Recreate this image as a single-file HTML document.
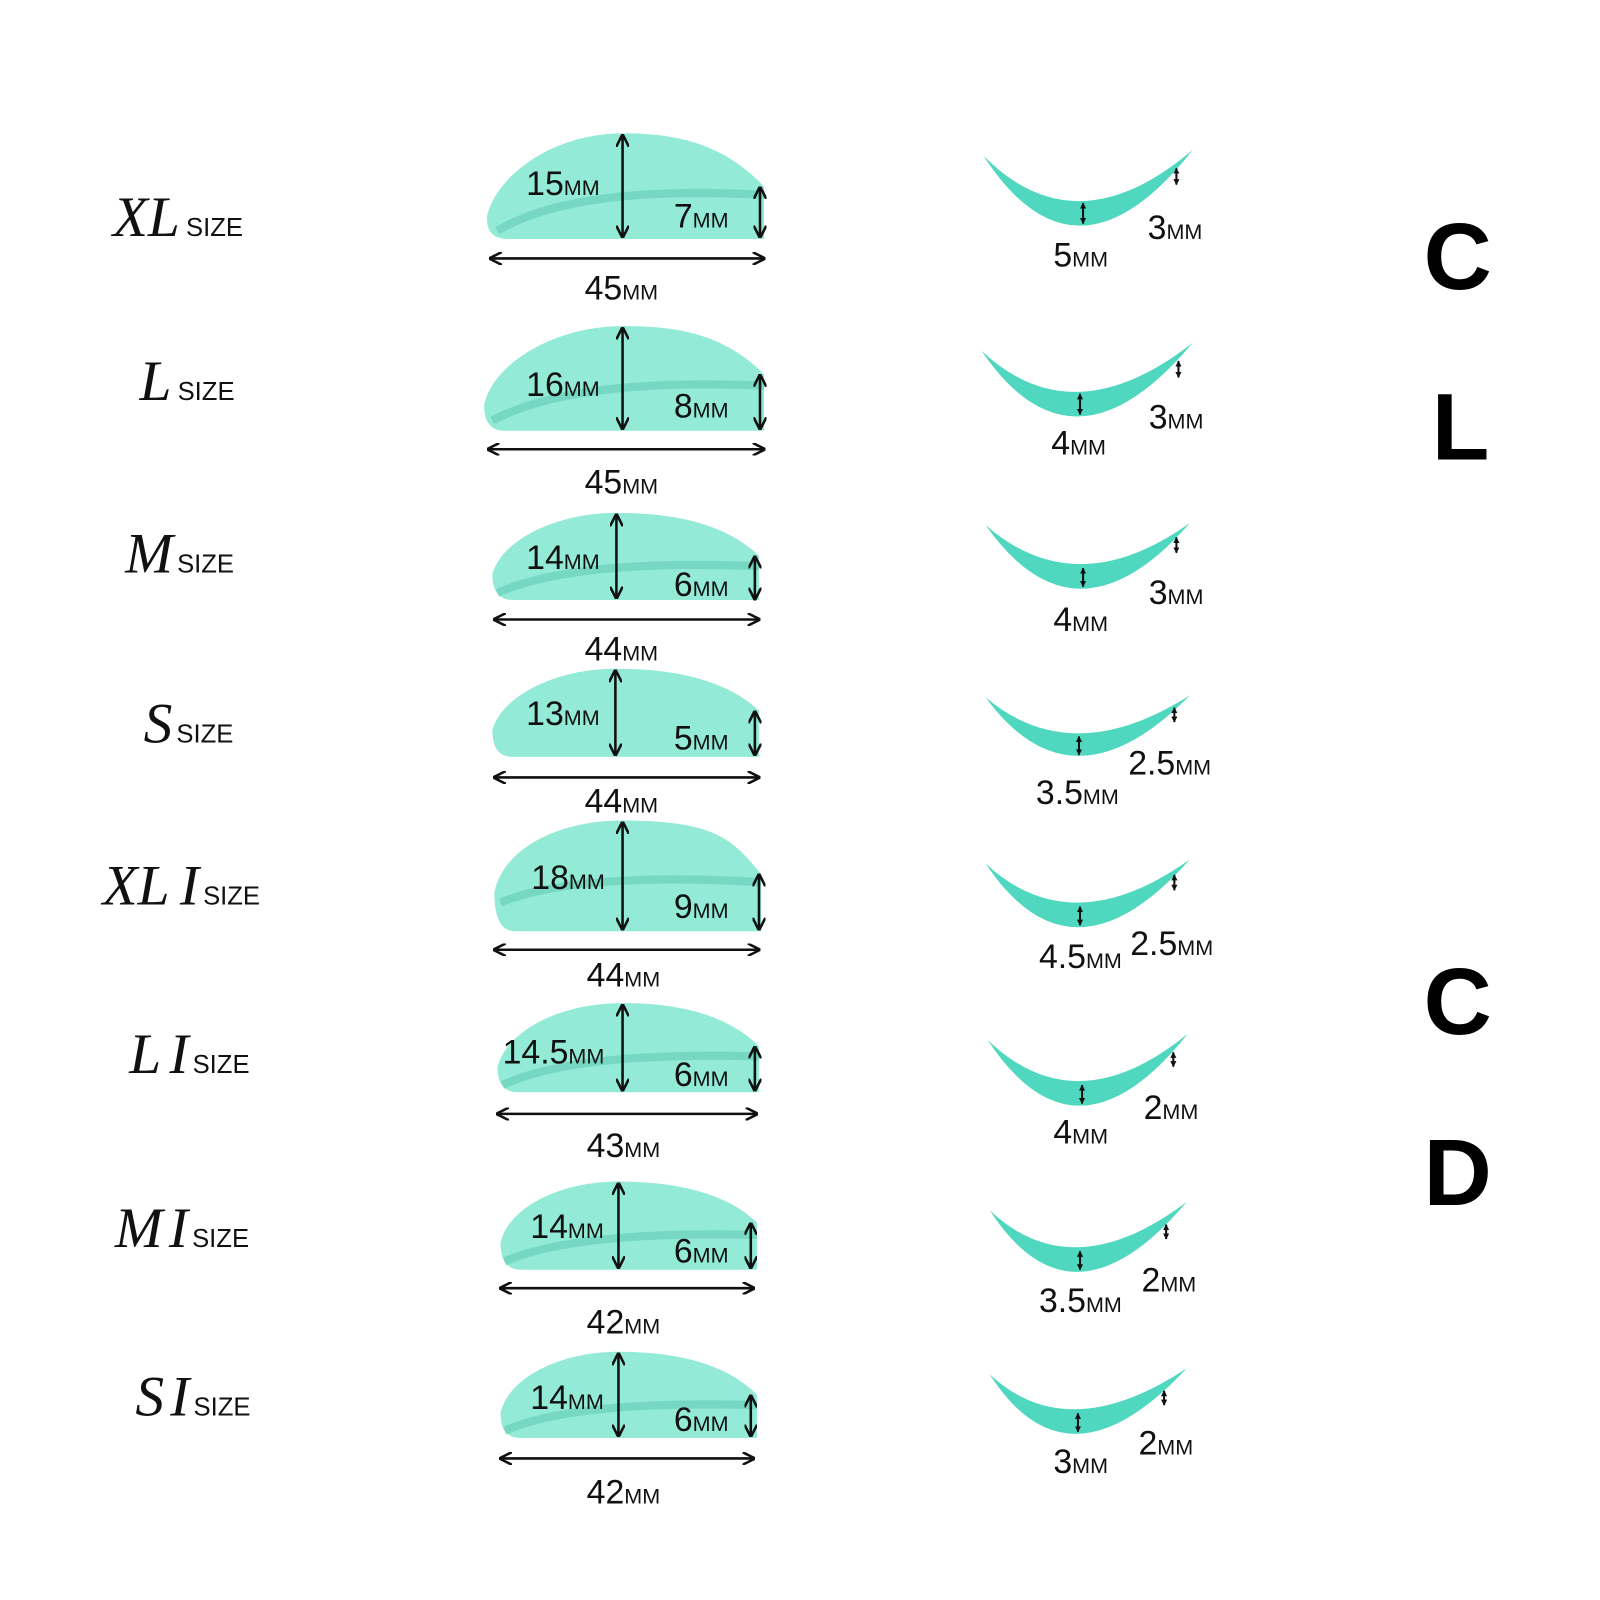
<!DOCTYPE html>
<html><head><meta charset="utf-8"><style>
html,body{margin:0;padding:0;background:#fff}
svg{display:block}
.n{font-family:"Liberation Sans",sans-serif;font-size:33px;fill:#111}
.m{font-size:21px}
.s{font-family:"Liberation Serif",serif;font-style:italic;font-size:56px;fill:#111}
.z{font-family:"Liberation Sans",sans-serif;font-style:normal;font-size:25px;fill:#111}
.big{font-family:"Liberation Sans",sans-serif;font-weight:bold;font-size:92px;fill:#000}
.pad{fill:#92ead7}
.band{fill:none;stroke:#6fd3bd;stroke-width:8;opacity:.8}
.cv{fill:#4fd8bf}
.ar{stroke:#111;stroke-width:2.5;fill:none;marker-start:url(#a);marker-end:url(#a)}
.sa{stroke:#111;stroke-width:2;fill:none;marker-start:url(#b);marker-end:url(#b)}
</style></head><body>
<svg width="1600" height="1600" viewBox="0 0 1560 1560" xmlns="http://www.w3.org/2000/svg">
<defs>
<marker id="a" viewBox="0 0 10 10" refX="9" refY="5" markerWidth="5" markerHeight="5" orient="auto-start-reverse"><path d="M0,0L10,5L0,10" fill="none" stroke="#111" stroke-width="2"/></marker>
<marker id="b" viewBox="0 0 10 10" refX="9" refY="5" markerWidth="3" markerHeight="3" orient="auto-start-reverse"><path d="M0,0L10,5L0,10Z" fill="#111"/></marker>
</defs>

<g>
<path class="pad" d="M495,233 L745,233 L745,182 C705,140 660,130 607,130 C540,130 485,170 475,210 Q473,233 495,233Z"/>
<path class="band" d="M485,225 Q560,180 745,190"/>
<line class="ar" x1="607" y1="132" x2="607" y2="231"/><line class="ar" x1="741" y1="183" x2="741" y2="231"/>
<line class="ar" x1="478" y1="252" x2="745" y2="252"/>
<text class="n" x="513" y="190">15<tspan class="m">MM</tspan></text><text class="n" x="657" y="222">7<tspan class="m">MM</tspan></text>
<text class="n" x="570" y="292">45<tspan class="m">MM</tspan></text>
</g>
<g>
<path class="pad" d="M492,420 L745,420 L745,365 C705,325 660,318 607,318 C540,318 480,355 472,395 Q472,420 492,420Z"/>
<path class="band" d="M480,410 Q560,368 745,376"/>
<line class="ar" x1="607" y1="320" x2="607" y2="418"/><line class="ar" x1="741" y1="366" x2="741" y2="418"/>
<line class="ar" x1="476" y1="438" x2="745" y2="438"/>
<text class="n" x="513" y="386">16<tspan class="m">MM</tspan></text><text class="n" x="657" y="407">8<tspan class="m">MM</tspan></text>
<text class="n" x="570" y="481">45<tspan class="m">MM</tspan></text>
</g>
<g>
<path class="pad" d="M500,585 L740,585 L740,542 C705,508 650,500 601,500 C540,500 488,528 480,560 Q480,585 500,585Z"/>
<path class="band" d="M485,578 Q560,545 740,552"/>
<line class="ar" x1="601" y1="502" x2="601" y2="583"/><line class="ar" x1="736" y1="543" x2="736" y2="584"/>
<line class="ar" x1="482" y1="604" x2="740" y2="604"/>
<text class="n" x="513" y="555">14<tspan class="m">MM</tspan></text><text class="n" x="657" y="581">6<tspan class="m">MM</tspan></text>
<text class="n" x="570" y="644">44<tspan class="m">MM</tspan></text>
</g>
<g>
<path class="pad" d="M500,738 L740,738 L740,693 C705,660 650,652 600,652 C540,652 488,680 480,712 Q480,738 500,738Z"/>
<line class="ar" x1="600" y1="654" x2="600" y2="736"/><line class="ar" x1="736" y1="694" x2="736" y2="736"/>
<line class="ar" x1="482" y1="758" x2="740" y2="758"/>
<text class="n" x="513" y="707">13<tspan class="m">MM</tspan></text><text class="n" x="657" y="731">5<tspan class="m">MM</tspan></text>
<text class="n" x="570" y="792">44<tspan class="m">MM</tspan></text>
</g>
<g>
<path class="pad" d="M502,908 L742,908 L742,852 C715,820 700,800 607,800 C540,800 490,830 482,870 Q482,908 502,908Z"/>
<path class="band" d="M488,880 Q560,850 742,860"/>
<line class="ar" x1="607" y1="802" x2="607" y2="906"/><line class="ar" x1="740" y1="853" x2="740" y2="906"/>
<line class="ar" x1="482" y1="926" x2="740" y2="926"/>
<text class="n" x="518" y="867">18<tspan class="m">MM</tspan></text><text class="n" x="657" y="895">9<tspan class="m">MM</tspan></text>
<text class="n" x="572" y="962">44<tspan class="m">MM</tspan></text>
</g>
<g>
<path class="pad" d="M505,1065 L740,1065 L740,1020 C705,985 650,978 607,978 C545,978 495,1005 485,1040 Q485,1065 505,1065Z"/>
<path class="band" d="M490,1058 Q560,1025 740,1030"/>
<line class="ar" x1="607" y1="980" x2="607" y2="1063"/><line class="ar" x1="736" y1="1021" x2="736" y2="1063"/>
<line class="ar" x1="485" y1="1086" x2="738" y2="1086"/>
<text class="n" x="490" y="1037">14.5<tspan class="m">MM</tspan></text><text class="n" x="657" y="1059">6<tspan class="m">MM</tspan></text>
<text class="n" x="572" y="1128">43<tspan class="m">MM</tspan></text>
</g>
<g>
<path class="pad" d="M508,1238 L738,1238 L738,1192 C705,1160 650,1152 603,1152 C545,1152 495,1178 488,1212 Q488,1238 508,1238Z"/>
<path class="band" d="M492,1230 Q560,1200 738,1204"/>
<line class="ar" x1="603" y1="1154" x2="603" y2="1236"/><line class="ar" x1="732" y1="1193" x2="732" y2="1236"/>
<line class="ar" x1="488" y1="1256" x2="735" y2="1256"/>
<text class="n" x="517" y="1207">14<tspan class="m">MM</tspan></text><text class="n" x="657" y="1231">6<tspan class="m">MM</tspan></text>
<text class="n" x="572" y="1300">42<tspan class="m">MM</tspan></text>
</g>
<g>
<path class="pad" d="M508,1402 L738,1402 L738,1360 C705,1326 650,1318 603,1318 C545,1318 495,1344 488,1378 Q488,1402 508,1402Z"/>
<path class="band" d="M492,1395 Q560,1365 738,1370"/>
<line class="ar" x1="603" y1="1320" x2="603" y2="1400"/><line class="ar" x1="732" y1="1361" x2="732" y2="1400"/>
<line class="ar" x1="488" y1="1422" x2="735" y2="1422"/>
<text class="n" x="517" y="1374">14<tspan class="m">MM</tspan></text><text class="n" x="657" y="1395">6<tspan class="m">MM</tspan></text>
<text class="n" x="572" y="1466">42<tspan class="m">MM</tspan></text>
</g>

<g transform="translate(-5,0)">
<path class="cv" d="M964,152 Q1054,291 1168,146 Q1054,243 964,152Z"/>
<line class="sa" x1="1061" y1="198" x2="1061" y2="218"/><line class="sa" x1="1152" y1="164" x2="1152" y2="180"/>
<text class="n" x="1032" y="260">5<tspan class="m">MM</tspan></text><text class="n" x="1124" y="233">3<tspan class="m">MM</tspan></text>

<path class="cv" d="M962,342 Q1051,474 1168,334 Q1051,426 962,342Z"/>
<line class="sa" x1="1058" y1="384" x2="1058" y2="404"/><line class="sa" x1="1154" y1="352" x2="1154" y2="368"/>
<text class="n" x="1030" y="443">4<tspan class="m">MM</tspan></text><text class="n" x="1125" y="418">3<tspan class="m">MM</tspan></text>

<path class="cv" d="M966,512 Q1054,637 1165,510 Q1054,589 966,512Z"/>
<line class="sa" x1="1061" y1="554" x2="1061" y2="572"/><line class="sa" x1="1152" y1="524" x2="1152" y2="539"/>
<text class="n" x="1032" y="615">4<tspan class="m">MM</tspan></text><text class="n" x="1125" y="589">3<tspan class="m">MM</tspan></text>

<path class="cv" d="M966,680 Q1050,795 1165,678 Q1050,751 966,680Z"/>
<line class="sa" x1="1057" y1="718" x2="1057" y2="736"/><line class="sa" x1="1150" y1="690" x2="1150" y2="704"/>
<text class="n" x="1015" y="784">3.5<tspan class="m">MM</tspan></text><text class="n" x="1105" y="755">2.5<tspan class="m">MM</tspan></text>

<path class="cv" d="M966,842 Q1050,968 1165,838 Q1050,920 966,842Z"/>
<line class="sa" x1="1058" y1="884" x2="1058" y2="902"/><line class="sa" x1="1150" y1="853" x2="1150" y2="868"/>
<text class="n" x="1018" y="944">4.5<tspan class="m">MM</tspan></text><text class="n" x="1107" y="931">2.5<tspan class="m">MM</tspan></text>

<path class="cv" d="M968,1014 Q1054,1145 1163,1008 Q1054,1097 968,1014Z"/>
<line class="sa" x1="1060" y1="1058" x2="1060" y2="1076"/><line class="sa" x1="1149" y1="1026" x2="1149" y2="1040"/>
<text class="n" x="1032" y="1115">4<tspan class="m">MM</tspan></text><text class="n" x="1120" y="1091">2<tspan class="m">MM</tspan></text>

<path class="cv" d="M970,1180 Q1050,1304 1162,1172 Q1050,1256 970,1180Z"/>
<line class="sa" x1="1058" y1="1220" x2="1058" y2="1238"/><line class="sa" x1="1142" y1="1194" x2="1142" y2="1208"/>
<text class="n" x="1018" y="1279">3.5<tspan class="m">MM</tspan></text><text class="n" x="1118" y="1259">2<tspan class="m">MM</tspan></text>

<path class="cv" d="M970,1340 Q1046,1459 1162,1334 Q1046,1411 970,1340Z"/>
<line class="sa" x1="1056" y1="1378" x2="1056" y2="1396"/><line class="sa" x1="1140" y1="1356" x2="1140" y2="1370"/>
<text class="n" x="1032" y="1436">3<tspan class="m">MM</tspan></text><text class="n" x="1115" y="1418">2<tspan class="m">MM</tspan></text>
</g>

<text class="s" x="110" y="230">XL<tspan class="z" dx="6">SIZE</tspan></text>
<text class="s" x="136" y="390">L<tspan class="z" dx="6">SIZE</tspan></text>
<text class="s" x="122" y="558">M<tspan class="z" dx="4">SIZE</tspan></text>
<text class="s" x="140" y="724">S<tspan class="z" dx="4">SIZE</tspan></text>
<text class="s" x="100" y="882">XL<tspan dx="10">I</tspan><tspan class="z" dx="4">SIZE</tspan></text>
<text class="s" x="126" y="1046">L<tspan dx="8">I</tspan><tspan class="z" dx="4">SIZE</tspan></text>
<text class="s" x="112" y="1216">M<tspan dx="6">I</tspan><tspan class="z" dx="4">SIZE</tspan></text>
<text class="s" x="132" y="1380">S<tspan dx="6">I</tspan><tspan class="z" dx="4">SIZE</tspan></text>

<text class="big" x="1388" y="282">C</text>
<text class="big" x="1396" y="448">L</text>
<text class="big" x="1388" y="1008">C</text>
<text class="big" x="1388" y="1175">D</text>
</svg>
</body></html>
